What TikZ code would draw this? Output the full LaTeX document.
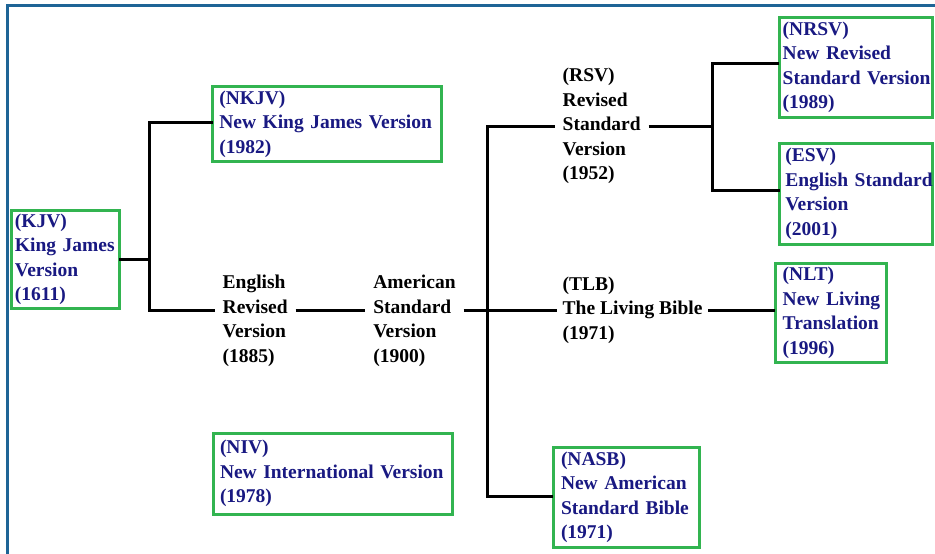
\documentclass[tikz,border=0pt]{standalone}
\usepackage{fontspec}
\setmainfont{Liberation Serif}
\definecolor{frameblue}{RGB}{30,100,150}
\definecolor{boxgreen}{RGB}{50,180,80}
\definecolor{navytext}{RGB}{25,25,130}
\hyphenpenalty=10000
\exhyphenpenalty=10000
\lefthyphenmin=62
\begin{document}
\begin{tikzpicture}[x=1pt,y=-1pt,
  every node/.style={font=\fontsize{19.5}{24.5}\selectfont\bfseries},
  vbox/.style={draw=boxgreen, line width=3pt, text=navytext, align=left, anchor=north west, inner ysep=0pt, outer sep=0pt},
  txt/.style={text=black, align=left, anchor=west, inner xsep=8pt, inner ysep=0pt, outer sep=0pt},
  conn/.style={draw=black, line width=3pt}]
\useasboundingbox (0,0) rectangle (935,554);
\fill[white] (0,0) rectangle (935,554);
% frame
\draw[frameblue, line width=3pt] (7,554) -- (7,5.5) -- (935,5.5);

% boxed versions
\node[vbox, inner xsep=3.5pt, text width=100.5pt, minimum width=107.5pt, minimum height=98pt] (kjv) at (11.5,210.5) {(KJV)\\King~James\\Version\\(1611)};
\node[vbox, inner xsep=6.8pt, text width=215.4pt, minimum width=229pt, minimum height=75pt] (nkjv) at (212.5,86.5) {(NKJV)\\New~King~James~Version\\(1982)};
\node[vbox, inner xsep=3.7pt, text width=145.6pt, minimum width=153pt, minimum height=100pt] (nrsv) at (779,17.5) {(NRSV)\\New~Revised\\Standard~Version\\(1989)};
\node[vbox, inner xsep=5.8pt, text width=140.9pt, minimum width=152.5pt, minimum height=101.5pt] (esv) at (779.5,143) {(ESV)\\English~Standard\\Version\\(2001)};
\node[vbox, inner xsep=7.7pt, text width=95.6pt, minimum width=111pt, minimum height=98.5pt] (nlt) at (775,263.5) {(NLT)\\New~Living\\Translation\\(1996)};
\node[vbox, inner xsep=6.5pt, text width=225.5pt, minimum width=238.5pt, minimum height=81pt] (niv) at (213.5,433) {(NIV)\\New~International~Version\\(1978)};
\node[vbox, inner xsep=8pt, text width=130pt, minimum width=146pt, minimum height=100pt] (nasb) at (553,447.5) {(NASB)\\New~American\\Standard~Bible\\(1971)};

% plain versions
\node[txt] (erv) at (214.7,321) {English\\Revised\\Version\\(1885)};
\node[txt] (asv) at (365.3,321) {American\\Standard\\Version\\(1900)};
\node[txt] (rsv) at (554.7,126) {(RSV)\\Revised\\Standard\\Version\\(1952)};
\node[txt, inner xsep=6pt] (tlb) at (556.7,310) {(TLB)\\The~Living~Bible\\(1971)};

% junctions
\coordinate (j1) at (149,122);
\coordinate (j2) at (149,310);
\coordinate (j3) at (487,126);
\coordinate (j4) at (487,496);
\coordinate (j5) at (712,63);
\coordinate (j6) at (712,190);

% connectors
\draw[conn] (kjv.east) -- (kjv.east -| j1);
\draw[conn] (nkjv.west |- j1) -- (j1) -- (j2) -- (erv.west |- j2);
\draw[conn] (erv.east |- j2) -- (asv.west |- j2);
\draw[conn] (asv.east |- j2) -- (tlb.west);
\draw[conn] (rsv.west) -- (j3) -- (j4) -- (nasb.west |- j4);
\draw[conn] (rsv.east) -- (rsv.east -| j5);
\draw[conn] (nrsv.west |- j5) -- (j5) -- (j6) -- (esv.west |- j6);
\draw[conn] (tlb.east) -- (nlt.west |- tlb.east);
\end{tikzpicture}
\end{document}
